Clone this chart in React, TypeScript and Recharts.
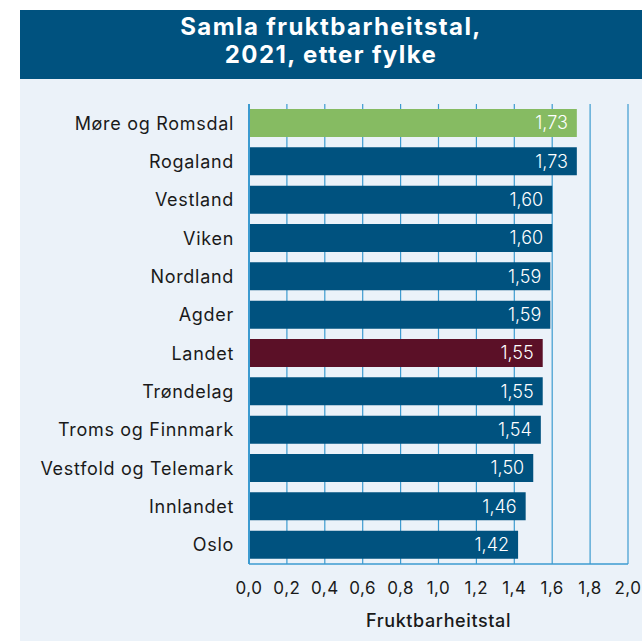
import { BarChart, Bar, XAxis, YAxis, CartesianGrid, Cell, LabelList } from 'recharts';

const fylke = [
  'Møre og Romsdal', 'Rogaland', 'Vestland', 'Viken', 'Nordland', 'Agder',
  'Landet', 'Trøndelag', 'Troms og Finnmark', 'Vestfold og Telemark', 'Innlandet', 'Oslo',
];
const fruktbarheit = [1.73, 1.73, 1.6, 1.6, 1.59, 1.59, 1.55, 1.55, 1.54, 1.5, 1.46, 1.42];
const xTicks = [0, 0.2, 0.4, 0.6, 0.8, 1.0, 1.2, 1.4, 1.6, 1.8, 2.0];

const BLUE = '#00527f';
const GRID = '#3d9bd0';
const FONT = 'Inter, "Noto Sans", sans-serif';

const data = fylke.map((namn, i) => ({ namn, verdi: fruktbarheit[i] }));

function barColor(namn: string) {
  if (namn === 'Møre og Romsdal') return '#86bb62';
  if (namn === 'Landet') return '#5b1027';
  return BLUE;
}

const komma = (v: number) => v.toFixed(1).replace('.', ',');

export default function App() {
  return (
    <div style={{ position: 'absolute', left: 0, top: 0, width: 642, height: 641, background: '#fff', fontFamily: FONT }}>
      <div style={{ position: 'absolute', left: 20, top: 10, width: 622, height: 69, background: BLUE }} />
      <div style={{ position: 'absolute', left: 20, top: 79, width: 622, height: 562, background: '#ebf2f9' }} />
      <div
        style={{
          position: 'absolute', left: 20, top: 13, width: 622, textAlign: 'center',
          color: '#fff', fontWeight: 700, fontSize: 24, lineHeight: '28px', letterSpacing: 1.4,
        }}
      >
        Samla fruktbarheitstal,
        <br />
        2021, etter fylke
      </div>
      <div style={{ position: 'absolute', left: 0, top: 0 }}>
        <BarChart
          width={642}
          height={641}
          data={data}
          layout="vertical"
          margin={{ top: 104, right: 14, bottom: 37, left: 0 }}
          barCategoryGap="13%"
        >
          <CartesianGrid horizontal={false} stroke={GRID} strokeWidth={1.2} />
          <XAxis
            type="number"
            domain={[0, 2]}
            ticks={xTicks}
            tickFormatter={komma}
            axisLine={{ stroke: GRID, strokeWidth: 1.5 }}
            tickLine={false}
            tickMargin={12}
            tick={{ fill: '#1a1a1a', fontSize: 17, fontFamily: FONT, letterSpacing: 0.5 }}
            height={40}
            label={{
              value: 'Fruktbarheitstal', position: 'bottom', offset: 10, fill: '#1a1a1a',
              fontSize: 18, fontWeight: 500, fontFamily: FONT, letterSpacing: 0.6,
            }}
          />
          <YAxis
            type="category"
            dataKey="namn"
            width={249}
            axisLine={{ stroke: GRID, strokeWidth: 2 }}
            tickLine={false}
            tickSize={0}
            tickMargin={15}
            interval={0}
            tick={{ fill: '#1a1a1a', fontSize: 18, fontFamily: FONT, letterSpacing: 0.7 }}
          />
          <Bar dataKey="verdi" isAnimationActive={false}>
            {data.map((d) => (
              <Cell key={d.namn} fill={barColor(d.namn)} />
            ))}
            <LabelList
              dataKey="verdi"
              position="insideRight"
              offset={9}
              formatter={(v: any) => Number(v).toFixed(2).replace('.', ',')}
              fill="#fff"
              fontSize={18}
              fontWeight={300}
              fontFamily={FONT}
            />
          </Bar>
        </BarChart>
      </div>
    </div>
  );
}
